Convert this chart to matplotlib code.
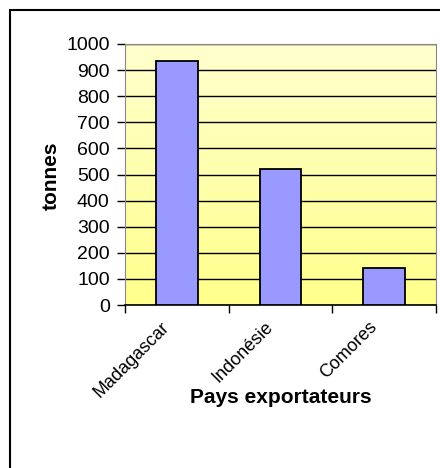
import matplotlib.pyplot as plt
import matplotlib.patches as mpatches
import matplotlib.transforms as mtransforms
import numpy as np

pays = ["Madagascar", "Indonésie", "Comores"]
tonnes = [935, 520, 140]
yticks = [0, 100, 200, 300, 400, 500, 600, 700, 800, 900, 1000]

plt.rcParams['font.family'] = ['Liberation Sans', 'DejaVu Sans']

W, H = 440, 468
fig = plt.figure(figsize=(W / 100, H / 100), dpi=100)

# outer frame (left and top visible, right/bottom run off the picture)
fig.patches.append(mpatches.Rectangle((10 / W, -0.1), 2, 1.1 - 10 / H,
                                      transform=fig.transFigure, fill=False,
                                      edgecolor='black', linewidth=1.5))

left, right, top, bottom = 125, 436, 44, 305
ax = fig.add_axes([left / W, 1 - bottom / H, (right - left) / W, (bottom - top) / H])

# yellow gradient background
grad = np.linspace(0, 1, 256).reshape(-1, 1)
c_top = np.array([255, 255, 206]) / 255
c_bot = np.array([255, 255, 140]) / 255
img = c_bot + (c_top - c_bot) * grad[..., None]
ax.imshow(img, extent=[0, 1, 0, 1], transform=ax.transAxes, aspect='auto',
          origin='lower', zorder=0)

x = np.arange(len(pays))
ax.bar(x, tonnes, width=0.4, color='#9999FF', edgecolor='black', linewidth=1.3, zorder=3)

ax.set_xlim(-0.5, len(pays) - 0.5)
ax.set_ylim(0, 1000)
ax.set_yticks(yticks)
ax.set_yticklabels([str(v) for v in yticks], fontsize=14)
ax.yaxis.grid(True, color='black', linewidth=1)
ax.set_axisbelow(True)
for g in ax.get_ygridlines():
    g.set_zorder(1)

ax.set_xticks(x)
ax.set_xticklabels(pays, rotation=45, ha='right', va='center',
                   rotation_mode='anchor', fontsize=13)
ax.tick_params(axis='x', length=0, pad=14)
shift = mtransforms.ScaledTranslation(-10 / 100, 0, fig.dpi_scale_trans)
for lab in ax.get_xticklabels():
    lab.set_transform(lab.get_transform() + shift)
ax.set_xticks(np.arange(len(pays) + 1) - 0.5, minor=True)
ax.tick_params(axis='x', which='minor', length=6, width=1, direction='out')
ax.tick_params(axis='y', length=6, width=1, direction='out', pad=5)

ax.spines['top'].set_color('#888888')
ax.spines['right'].set_color('#888888')
ax.spines['left'].set_color('#888888')
ax.spines['bottom'].set_color('black')
ax.spines['bottom'].set_linewidth(1.2)

ax.set_ylabel("tonnes", fontsize=15, fontweight='bold', va='center')
ax.yaxis.set_label_coords(-0.238, 0.494)
ax.set_xlabel("Pays exportateurs", fontsize=15, fontweight='bold', va='center')
ax.xaxis.set_label_coords(0.5, -0.356)

fig.savefig("out.png", dpi=100)
